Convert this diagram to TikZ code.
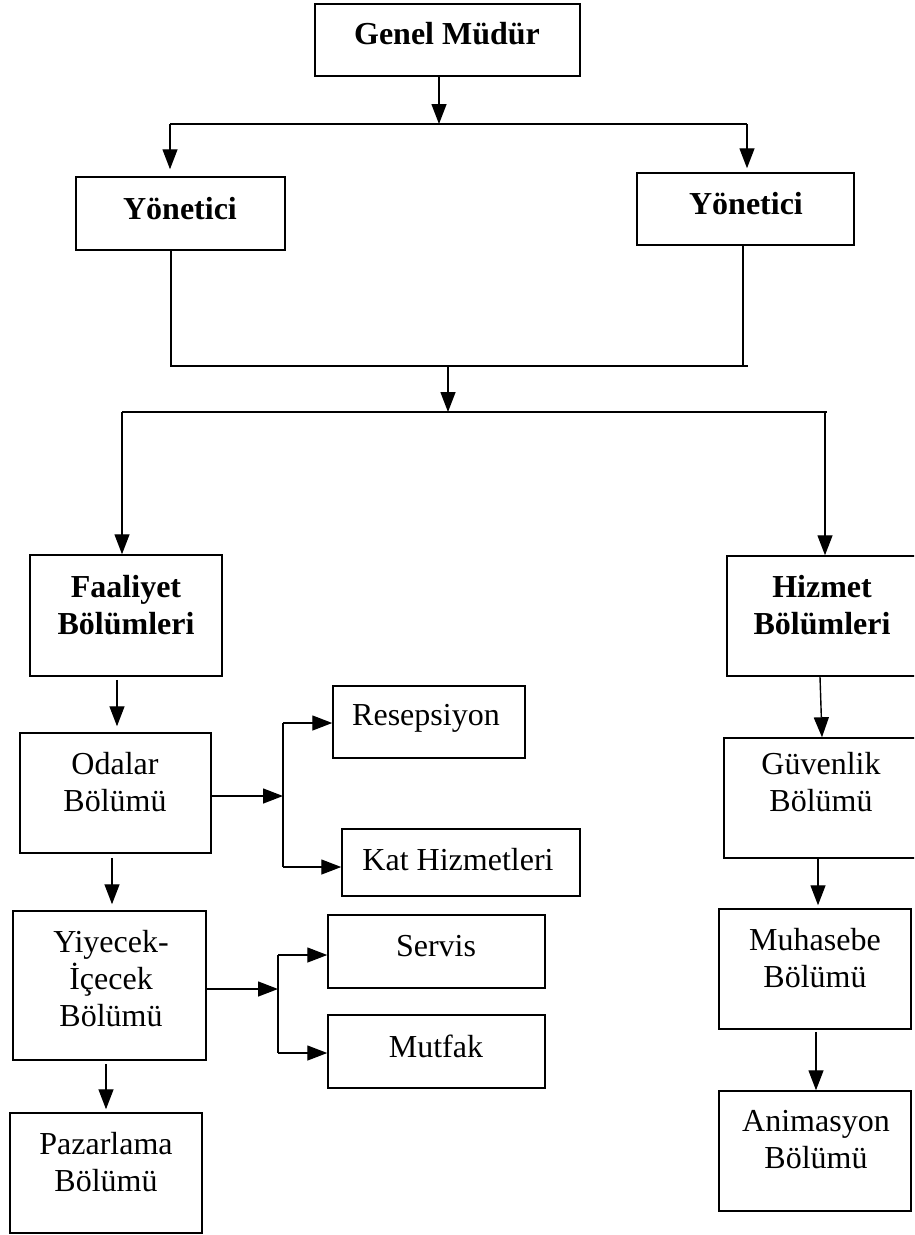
\documentclass[tikz,border=0pt]{standalone}
\usepackage{fontspec}
\setmainfont{Liberation Serif}
\usetikzlibrary{arrows.meta}

\tikzset{
  box/.style={draw, line width=1.5pt, inner sep=0pt, rectangle},
  lbl/.style={align=center, inner sep=0pt, font=\fontsize{32}{37}\selectfont},
  blbl/.style={lbl, font=\fontsize{32}{37}\selectfont\bfseries},
  link/.style={line width=1.4pt},
  arr/.style={link, -{Triangle[length=20pt,width=15pt]}}
}

\begin{document}
\begin{tikzpicture}[x=1pt,y=-1pt]
  \useasboundingbox (0,0) rectangle (914,1235);
  \clip (0,0) rectangle (914,1235);

  % boxes
  \node[box, minimum width=265pt, minimum height=72pt]  (gm) at (447.5,40) {};
  \node[box, minimum width=209pt, minimum height=73pt]  (y1) at (180.5,213.5) {};
  \node[box, minimum width=217pt, minimum height=72pt]  (y2) at (745.5,209) {};
  \node[box, minimum width=192pt, minimum height=121pt] (fa) at (126,615.5) {};
  \node[box, minimum width=203pt, minimum height=120pt] (hz) at (828.5,616) {};
  \node[box, minimum width=191pt, minimum height=120pt] (od) at (115.5,793) {};
  \node[box, minimum width=192pt, minimum height=72pt]  (re) at (429,722) {};
  \node[box, minimum width=238pt, minimum height=67pt]  (kh) at (461,862.5) {};
  \node[box, minimum width=193pt, minimum height=149pt] (yi) at (109.5,985.5) {};
  \node[box, minimum width=217pt, minimum height=73pt]  (se) at (436.5,951.5) {};
  \node[box, minimum width=217pt, minimum height=73pt]  (mu) at (436.5,1051.5) {};
  \node[box, minimum width=192pt, minimum height=120pt] (pz) at (106,1173) {};
  \node[box, minimum width=206pt, minimum height=120pt] (gv) at (827,798) {};
  \node[box, minimum width=192pt, minimum height=120pt] (mh) at (815,969) {};
  \node[box, minimum width=192pt, minimum height=120pt] (an) at (815,1151) {};

  % labels
  \node[blbl] (tgm) at (447,34)  {Genel Müdür};
  \node[blbl] (ty1) at (180,209) {Yönetici};
  \node[blbl] (ty2) at (746,204) {Yönetici};
  \node[blbl] (tfa) at (126,605) {Faaliyet\\Bölümleri};
  \node[blbl] (thz) at (822,605) {Hizmet\\Bölümleri};
  \node[lbl]  (tod) at (115,782) {Odalar\\Bölümü};
  \node[lbl]  (tre) at (426,718) {Resepsiyon};
  \node[lbl]  (tkh) at (458,860) {Kat Hizmetleri};
  \node[lbl]  (tyi) at (111,979) {Yiyecek-\\İçecek\\Bölümü};
  \node[lbl]  (tse) at (436,946) {Servis};
  \node[lbl]  (tmu) at (436,1046) {Mutfak};
  \node[lbl]  (tpz) at (106,1162) {Pazarlama\\Bölümü};
  \node[lbl]  (tgv) at (821,782) {Güvenlik\\Bölümü};
  \node[lbl]  (tmh) at (815,958) {Muhasebe\\Bölümü};
  \node[lbl]  (tan) at (816,1140) {Animasyon\\Bölümü};

  % junction points
  \coordinate (j1) at (439,124);
  \coordinate (bl1) at (170,124);
  \coordinate (br1) at (747,124);
  \coordinate (c1) at (171,366);
  \coordinate (c2) at (743,366);
  \coordinate (c3) at (748,366);
  \coordinate (j2) at (448,366);
  \coordinate (j3) at (448,412);
  \coordinate (bl2) at (122,412);
  \coordinate (br2) at (825,412);
  \coordinate (br2e) at (827,412);
  \coordinate (ko) at (283,796);
  \coordinate (kt) at (283,723);
  \coordinate (kb) at (283,867);
  \coordinate (ky) at (278,989);
  \coordinate (kyt) at (278,955);
  \coordinate (kyb) at (278,1053);

  % general manager to managers
  \draw[arr] (gm.south -| j1) -- (j1);
  \draw[link, line width=1.8pt] (bl1) -- (br1);
  \draw[arr, shorten >=7pt] (bl1) -- (bl1 |- y1.north);
  \draw[arr, shorten >=4pt] (br1) -- (br1 |- y2.north);

  % managers to departments
  \draw[link] (y1.south -| c1) -- (c1) -- (c3);
  \draw[link] (y2.south -| c2) -- (c2);
  \draw[arr] (j2) -- (j3);
  \draw[link, line width=1.8pt] (bl2) -- (br2e);
  \draw[arr] (bl2) -- (bl2 |- fa.north);
  \draw[arr] (br2) -- (br2 |- hz.north);

  % operating departments
  \draw[arr, shorten <=3pt, shorten >=6pt] (fa.south -| 117,0) -- (od.north -| 117,0);
  \draw[arr] (od.east |- ko) -- (ko);
  \draw[link] (kt) -- (kb);
  \draw[arr] (kt) -- (re.west |- kt);
  \draw[arr] (kb) -- (kh.west |- kb);
  \draw[arr, shorten <=4pt, shorten >=6pt] (od.south -| 112,0) -- (yi.north -| 112,0);
  \draw[arr] (yi.east |- ky) -- (ky);
  \draw[link] (kyt) -- (kyb);
  \draw[arr] (kyt) -- (se.west |- kyt);
  \draw[arr] (kyb) -- (mu.west |- kyb);
  \draw[arr, shorten <=3pt, shorten >=3pt] (yi.south -| 106,0) -- (pz.north -| 106,0);

  % service departments
  \draw[arr] (hz.south -| 820,0) -- (gv.north -| 822,0);
  \draw[arr, shorten >=3pt] (gv.south -| 818,0) -- (mh.north -| 818,0);
  \draw[arr, shorten <=2pt] (mh.south -| 816,0) -- (an.north -| 816,0);
\end{tikzpicture}
\end{document}
